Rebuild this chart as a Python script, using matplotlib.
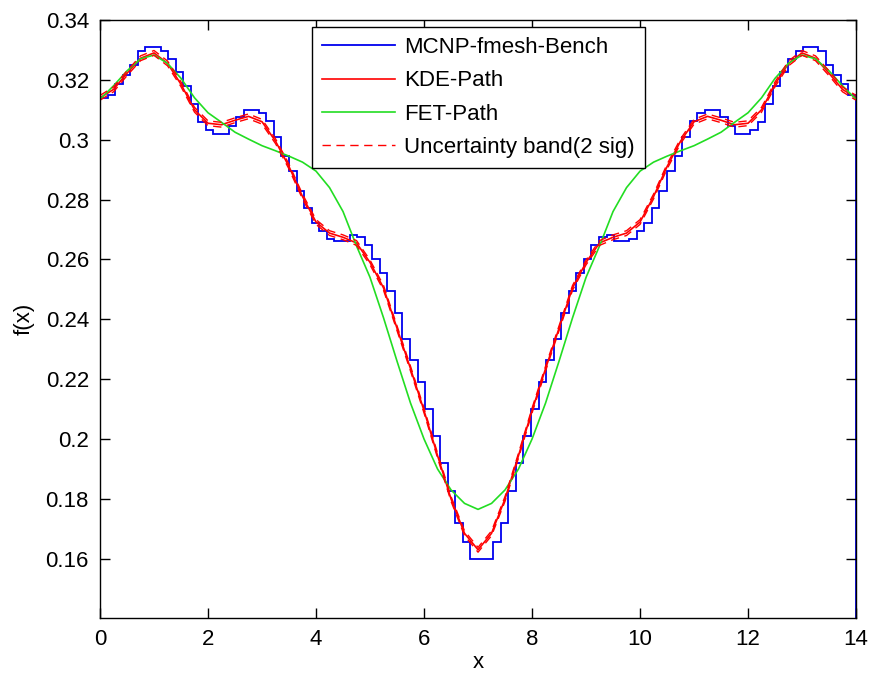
import numpy as np
import matplotlib
matplotlib.use('Agg')
import matplotlib.pyplot as plt

# ==========================================
# data
# ==========================================
# MCNP benchmark: 100 bins of width 0.14 on [0, 14]
bin_edges = np.linspace(0, 14, 101)
bench_vals = [
    0.3140, 0.3148, 0.3185, 0.3215, 0.3250, 0.3295, 0.3310, 0.3310, 0.3295, 0.3268,
    0.3225, 0.3180, 0.3120, 0.3060, 0.3032, 0.3020, 0.3020, 0.3045, 0.3075, 0.3098,
    0.3098, 0.3088, 0.3062, 0.3010, 0.2945, 0.2895, 0.2830, 0.2772, 0.2722, 0.2695,
    0.2668, 0.2660, 0.2662, 0.2680, 0.2675, 0.2648, 0.2600, 0.2555, 0.2495, 0.2420,
    0.2335, 0.2265, 0.2190, 0.2100, 0.2010, 0.1920, 0.1825, 0.1720, 0.1655, 0.1600,
    0.1600, 0.1600, 0.1655, 0.1720, 0.1825, 0.1920, 0.2010, 0.2100, 0.2190, 0.2265,
    0.2335, 0.2420, 0.2495, 0.2555, 0.2600, 0.2648, 0.2675, 0.2680, 0.2662, 0.2660,
    0.2668, 0.2695, 0.2722, 0.2772, 0.2830, 0.2895, 0.2945, 0.3010, 0.3062, 0.3088,
    0.3098, 0.3098, 0.3075, 0.3045, 0.3020, 0.3020, 0.3032, 0.3060, 0.3120, 0.3180,
    0.3225, 0.3268, 0.3295, 0.3310, 0.3310, 0.3295, 0.3250, 0.3215, 0.3185, 0.3148,
]

# smooth estimates sampled every 0.25
x_path = np.arange(0, 14.001, 0.25)
kde_vals = [
    0.3140, 0.3168, 0.3222, 0.3272, 0.3290, 0.3255, 0.3185, 0.3100, 0.3055, 0.3050,
    0.3065, 0.3078, 0.3060, 0.2995, 0.2910, 0.2810, 0.2725, 0.2688, 0.2674, 0.2655,
    0.2590, 0.2505, 0.2370, 0.2235, 0.2095, 0.1945, 0.1800, 0.1685, 0.1630,
    0.1685, 0.1800, 0.1945, 0.2095, 0.2235, 0.2370, 0.2505, 0.2590, 0.2655, 0.2674,
    0.2688, 0.2725, 0.2810, 0.2910, 0.2995, 0.3060, 0.3078, 0.3065, 0.3050, 0.3055,
    0.3100, 0.3185, 0.3255, 0.3290, 0.3272, 0.3222, 0.3168, 0.3140,
]
fet_vals = [
    0.3135, 0.3180, 0.3230, 0.3270, 0.3283, 0.3255, 0.3205, 0.3140, 0.3090, 0.3058,
    0.3025, 0.3002, 0.2980, 0.2963, 0.2945, 0.2925, 0.2895, 0.2840, 0.2760, 0.2645,
    0.2540, 0.2405, 0.2260, 0.2120, 0.2000, 0.1900, 0.1830, 0.1785, 0.1765,
    0.1785, 0.1830, 0.1900, 0.2000, 0.2120, 0.2260, 0.2405, 0.2540, 0.2645, 0.2760,
    0.2840, 0.2895, 0.2925, 0.2945, 0.2963, 0.2980, 0.3002, 0.3025, 0.3058, 0.3090,
    0.3140, 0.3205, 0.3255, 0.3283, 0.3270, 0.3230, 0.3180, 0.3135,
]
band_half = 0.0008   # 2 sigma

x_ticks = [0, 2, 4, 6, 8, 10, 12, 14]
y_ticks = [0.16, 0.18, 0.2, 0.22, 0.24, 0.26, 0.28, 0.3, 0.32, 0.34]
y_ticklabels = ['0.16', '0.18', '0.2', '0.22', '0.24', '0.26', '0.28', '0.3', '0.32', '0.34']

# ==========================================
# plot
# ==========================================
plt.rcParams['font.family'] = ['Liberation Sans', 'DejaVu Sans']
fs = 16

fig = plt.figure(figsize=(8.72, 6.77), dpi=100)
ax = fig.add_axes([0.1147, 0.0871, 0.867, 0.8834])

kde = np.array(kde_vals)
ax.stairs(bench_vals, bin_edges, color='#0000ee', linewidth=1.3, label='MCNP-fmesh-Bench')
ax.plot(x_path, kde, color='#ff0000', linewidth=1.2, label='KDE-Path')
ax.plot(x_path, fet_vals, color='#22dd22', linewidth=1.2, label='FET-Path')
ax.plot(x_path, kde + band_half, color='#ff0000', linestyle='--', linewidth=1.0,
        dashes=(6, 4), label='Uncertainty band(2 sig)')
ax.plot(x_path, kde - band_half, color='#ff0000', linestyle='--', linewidth=1.0,
        dashes=(6, 4))

ax.set_xlim(0, 14)
ax.set_ylim(0.1402, 0.34)
ax.set_xticks(x_ticks)
ax.set_yticks(y_ticks)
ax.set_yticklabels(y_ticklabels)
ax.tick_params(direction='in', length=7, width=1, top=True, right=True,
               labelsize=fs, pad=8)
for sp in ax.spines.values():
    sp.set_linewidth(1.0)
ax.set_xlabel('x', fontsize=fs, labelpad=1)
ax.set_ylabel('f(x)', fontsize=fs, labelpad=8)

leg = ax.legend(loc='upper left', bbox_to_anchor=(0.2804, 0.988), fontsize=fs,
                fancybox=False, edgecolor='black', framealpha=1,
                handlelength=3.3, handletextpad=0.4, labelspacing=0.55,
                borderpad=0.45, borderaxespad=0)
leg.get_frame().set_linewidth(1.0)

fig.savefig('out.png', dpi=100)
